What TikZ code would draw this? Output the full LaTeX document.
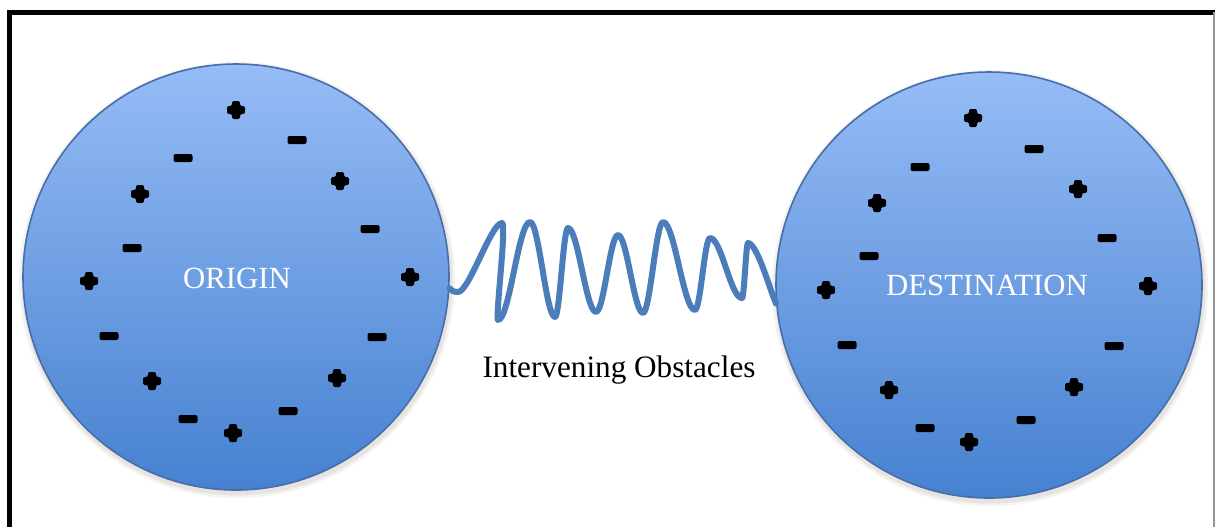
\documentclass[tikz,border=0pt]{standalone}
\usepackage{fontspec}
\setmainfont{Liberation Serif}
\begin{document}
\begin{tikzpicture}[x=0.5pt,y=-0.5pt,
  ball/.style={circle, minimum size=213pt, inner sep=0pt, draw=ballline, line width=0.8pt,
    top color=balltop, bottom color=ballbot},
  balllabel/.style={text=white, font=\fontsize{15.4}{18}\selectfont, inner sep=0pt},
  wave/.style={draw=wavecol, line width=3pt, line cap=round, line join=round},
  chargefill/.style={fill=black, rounded corners=1pt},
  pics/plusmark/.style={code={\fill[chargefill] (-4,-9) -- (4,-9) -- (4,-4) -- (9,-4) -- (9,4) -- (4,4) -- (4,9) -- (-4,9) -- (-4,4) -- (-9,4) -- (-9,-4) -- (-4,-4) -- cycle;}},
  pics/minusmark/.style={code={\fill[chargefill] (-9.5,-4) rectangle (9.5,4);}}
]
\definecolor{balltop}{RGB}{150,188,246}
\definecolor{ballbot}{RGB}{70,129,208}
\definecolor{ballline}{RGB}{70,110,168}
\definecolor{wavecol}{RGB}{74,125,186}
\definecolor{framegray}{RGB}{150,150,150}
\useasboundingbox (0,0) rectangle (1215,527);
\fill[white] (0,0) rectangle (1215,527);
% frame
\draw[line width=2.5pt] (7,12.5) -- (1215,12.5);
\draw[line width=2.5pt] (9.8,10) -- (9.8,527);
\draw[framegray, line width=1pt] (1213.5,12) -- (1213.5,527);
% shadows
\foreach \cx/\cy in {236/277, 989/285}{
  \fill[black!60!brown, opacity=0.06] (\cx+1,\cy+3) circle[radius=218];
  \fill[black!60!brown, opacity=0.08] (\cx+1,\cy+3) circle[radius=215.5];
}
% balls
\node[ball] (origin) at (236,277) {};
\node[ball] (dest) at (989,285) {};
\node[balllabel] (originlabel) at (237,278) {ORIGIN};
\node[balllabel] (destlabel) at (987,285) {DESTINATION};
% wave
\coordinate (wstart) at (origin.-3);
\coordinate (wend) at (dest.185);
\draw[wave] (wstart) .. controls (452,291) and (454,292) .. (458,292)
  .. controls (469,292) and (491,223) .. (502,223)
  .. controls (507,223) and (495,320) .. (498,320)
  .. controls (509.5,320) and (518.5,222) .. (530,222)
  .. controls (539,222) and (546,317) .. (555,317)
  .. controls (559.7,317) and (563.3,228) .. (568,228)
  .. controls (578,228) and (586,312) .. (596,312)
  .. controls (604,312) and (610,235) .. (618,235)
  .. controls (627,235) and (634,313) .. (643,313)
  .. controls (650,313) and (656,222) .. (663,222)
  .. controls (674.5,222) and (683.5,310) .. (695,310)
  .. controls (700.4,310) and (704.6,238) .. (710,238)
  .. controls (721.5,238) and (730.5,298) .. (742,298)
  .. controls (744.2,298) and (746,243) .. (748,243)
  .. controls (757,243) and (770,290) .. (wend);
\node[font=\fontsize{15.6}{18}\selectfont, inner sep=0pt, anchor=base] (obst) at (619,377) {Intervening Obstacles};
% charges, origin
\foreach \px/\py in {236/110, 340/181, 140/194, 410/277, 89/281, 152/381, 337/378, 233/433}
  \pic at (\px,\py) {plusmark};
\foreach \px/\py in {297/140, 183/158, 370/229, 132/248, 109/336, 377/337, 288/411, 188/419}
  \pic at (\px,\py) {minusmark};
% charges, destination
\foreach \px/\py in {973/118, 1078/189, 877/203, 826/290, 1148/286, 889/390, 1074/387, 969/442}
  \pic at (\px,\py) {plusmark};
\foreach \px/\py in {1034/149, 920/167, 1107/238, 869/256, 847/345, 1114/346, 1026/420, 925/428}
  \pic at (\px,\py) {minusmark};
\end{tikzpicture}
\end{document}
